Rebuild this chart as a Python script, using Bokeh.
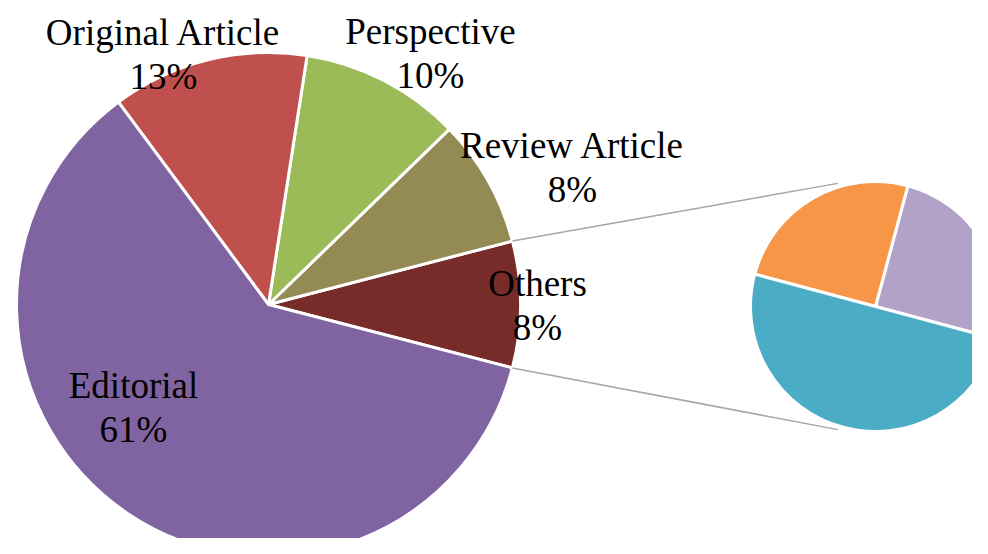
import math
from bokeh.plotting import figure
from bokeh.models import Range1d
from bokeh.core.properties import value
from bokeh.embed import file_html
from bokeh.resources import INLINE

# ---- data ----
categories = ["Others", "Review Article", "Perspective", "Original Article", "Editorial"]
shares = [8.1, 8.2, 10.3, 12.6, 60.8]          # percent of all items
colors = ["#772C2A", "#948A54", "#9BBB59", "#C0504D", "#8064A2"]

sub_categories = ["Others A", "Others B", "Others C"]
sub_shares = [2.0, 2.0, 4.0]                     # breakdown of "Others"
sub_colors = ["#B2A2C7", "#F79646", "#4BACC6"]

# ---- layout (pixel-like data units, y up) ----
W, H = 988, 554
PW, PH = 972, 538
main_c = (268, 554 - 304)
main_r = 252
sub_c = (875, 554 - 306)
sub_r = 125
sub_start_deg = -15.0
connector_deg = 107.0
connector_scale = 1.03
# label baseline offsets (name line) relative to main centre
label_off = {
    "Original Article": (-105, 259),
    "Perspective": (162, 260),
    "Review Article": (304, 146),
    "Others": (269, 8),
    "Editorial": (-135, -94),
}
baseline_fix = 13
line_gap = 44
FONT = "Liberation Serif"

p = figure(width=PW, height=PH, output_backend="svg", toolbar_location=None,
           x_range=Range1d(0, PW), y_range=Range1d(H - PH, H),
           min_border=0, outline_line_color=None, background_fill_color="white")
p.axis.visible = False
p.grid.visible = False

# main pie: "Others" centred on angle 0
total = sum(shares)
start = -shares[0] / total * 360 / 2
starts, ends = [], []
a = start
for s in shares:
    starts.append(math.radians(a))
    a += s / total * 360
    ends.append(math.radians(a))
p.wedge(x=[main_c[0]] * len(shares), y=[main_c[1]] * len(shares), radius=main_r,
        start_angle=starts, end_angle=ends, fill_color=colors,
        line_color="white", line_width=3)

# secondary pie
sub_total = sum(sub_shares)
s_starts, s_ends = [], []
a = sub_start_deg
for s in sub_shares:
    s_starts.append(math.radians(a))
    a += s / sub_total * 360
    s_ends.append(math.radians(a))
p.wedge(x=[sub_c[0]] * len(sub_shares), y=[sub_c[1]] * len(sub_shares), radius=sub_r,
        start_angle=s_starts, end_angle=s_ends, fill_color=sub_colors,
        line_color="white", line_width=3)

# connector lines from the "Others" slice edges to the secondary pie
for sign, ang in ((1, ends[0]), (-1, starts[0])):
    x0 = main_c[0] + main_r * math.cos(ang)
    y0 = main_c[1] + main_r * math.sin(ang)
    ca = math.radians(sign * connector_deg)
    x1 = sub_c[0] + connector_scale * sub_r * math.cos(ca)
    y1 = sub_c[1] + connector_scale * sub_r * math.sin(ca)
    p.line([x0, x1], [y0, y1], line_color="#A6A6A6", line_width=1.5)

# labels
for cat, s in zip(categories, shares):
    dx, dy = label_off[cat]
    x = main_c[0] + dx
    y = main_c[1] + dy + baseline_fix
    p.text(x=[x, x], y=[y, y - line_gap], text=[cat, f"{round(s / total * 100)}%"],
           text_font=value(FONT), text_font_size="37px", text_color="black",
           text_align="center", text_baseline="alphabetic")

open("out.html", "w").write(file_html(p, INLINE))
